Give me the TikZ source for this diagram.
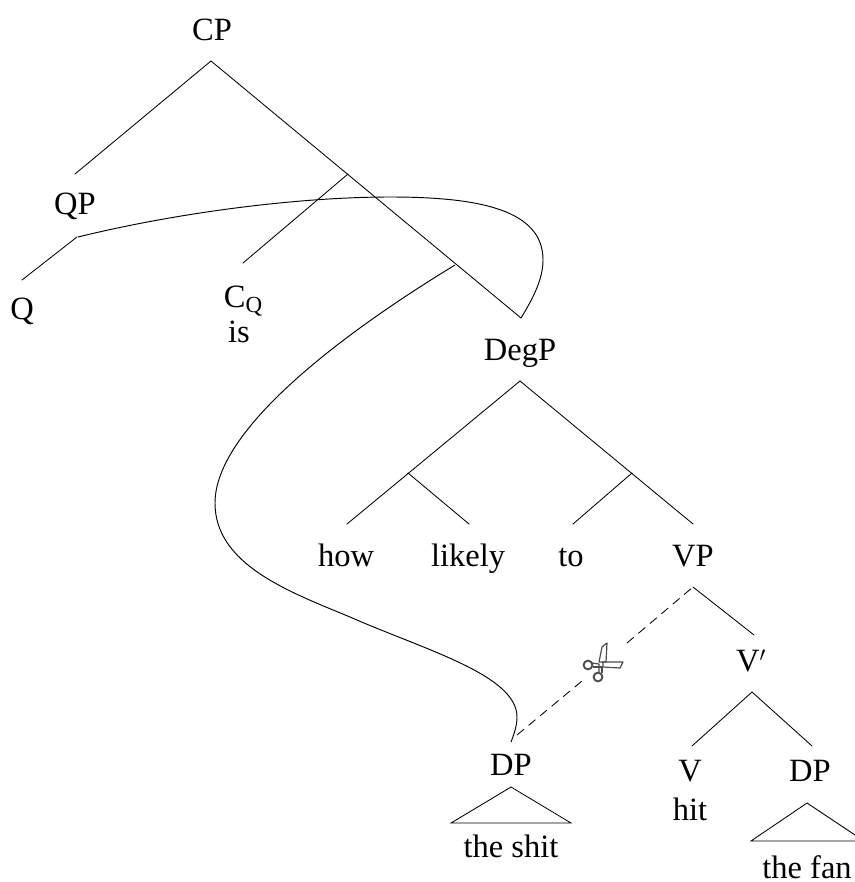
\documentclass[tikz,border=0pt]{standalone}
\usepackage{fontspec}
\setmainfont{Liberation Serif}
\begin{document}
\begin{tikzpicture}[x=1pt,y=-1pt,
  lab/.style={font=\fontsize{32.5}{32.5}\selectfont,inner sep=0pt,anchor=base},
  edge/.style={line width=0.85pt,line cap=round},
  move/.style={line width=0.95pt},
  cut/.style={line width=0.85pt,dash pattern=on 9pt off 6pt},
  sciss/.style={line width=1.2pt,draw=black!70,line join=round}]
\useasboundingbox (0,0) rectangle (854,882);
% labels (anchored on their baselines)
\node[lab] (cp) at (212,41) {CP};
\node[lab] (qp) at (75,215) {QP};
\node[lab] (q) at (22,319) {Q};
\node[lab] (cq) at (243,307) {C\raisebox{-5pt}{\fontsize{23}{23}\selectfont Q}};
\node[lab] (is) at (239,342) {is};
\node[lab] (degp) at (520,360) {DegP};
\node[lab] (how) at (346,566) {how};
\node[lab] (likely) at (468,566) {likely};
\node[lab] (to) at (571,566) {to};
\node[lab] (vp) at (693,566) {VP};
\node[lab] (vbar) at (751,671) {V$'$};
\node[lab] (v) at (690,781) {V};
\node[lab] (hit) at (690,820) {hit};
\node[lab] (dpb) at (810,781) {DP};
\node[lab] (thefan) at (807,878) {the fan};
\node[lab] (dpa) at (511,775) {DP};
\node[lab] (theshit) at (511,857) {the shit};
% junctions
\coordinate (cpb) at (211,61);
\coordinate (qpt) at (75,174);
\coordinate (cpr) at (521,318);
\coordinate (qpb) at (77,237);
\coordinate (qt) at (22,280);
\coordinate (j1) at (348,174);
\coordinate (cqt) at (243,263);
\coordinate (j2) at (455,265);
\coordinate (dgb) at (520,381);
\coordinate (howt) at (347,524);
\coordinate (vpt) at (693,524);
\coordinate (j3) at (408,473);
\coordinate (likt) at (469,524);
\coordinate (j4) at (632,473);
\coordinate (tot) at (573,524);
\coordinate (vpb) at (693,587);
\coordinate (vbt) at (754,635);
\coordinate (vbb) at (752,692);
\coordinate (vt) at (692,746);
\coordinate (dpbt) at (812,746);
\coordinate (dpat) at (517,735);
\coordinate (dpc) at (511,742);
\coordinate (cutl) at (582,681);
\coordinate (cutr) at (627,643);
\coordinate (ta) at (511,787);
\coordinate (tal) at (451,823);
\coordinate (tar) at (571,823);
\coordinate (tb) at (807,803);
\coordinate (tbl) at (751,841);
\coordinate (tbr) at (864,841);
\coordinate (qs) at (78,237);
\coordinate (piv) at (599,664);
\coordinate (ring1) at (588,665);
\coordinate (ring2) at (598,677);
% tree
\draw[edge] (qpt) -- (cpb) -- (cpr);
\draw[edge] (qpb) -- (qt);
\draw[edge] (j1) -- (cqt);
\draw[edge] (howt) -- (dgb) -- (vpt);
\draw[edge] (j3) -- (likt);
\draw[edge] (j4) -- (tot);
\draw[edge] (vpb) -- (vbt);
\draw[edge] (vt) -- (vbb) -- (dpbt);
\draw[edge] (tal) -- (ta) -- (tar) -- cycle;
\draw[edge] (tbl) -- (tb) -- (tbr) -- cycle;
\draw[cut] (dpat) -- (cutl);
\draw[cut] (cutr) -- (vpb);
% scissors
\draw[sciss] (599,662) -- (602,647) -- (607,643) -- (606,662) -- cycle;
\draw[sciss] (603,662) -- (623,662) -- (620,668) -- (603,667) -- cycle;
\draw[sciss,line width=1.9pt] (ring1) circle[radius=4.4];
\draw[sciss,line width=1.9pt] (ring2) circle[radius=4.4];
\draw[sciss] (592,663) -- (piv) -- (599,672);
\draw[sciss] (593,667) -- (602,667) -- (602,673);
% movement
\draw[move] (qs) .. controls (180,212) and (300,197) .. (390,197) .. controls (480,197) and (543,210) .. (543,260) .. controls (543,280) and (532,300) .. (cpr);
\draw[move] (j2) .. controls (340,335) and (215,430) .. (215,503) .. controls (215,565) and (290,592) .. (350,617) .. controls (425,650) and (517,675) .. (517,717) .. controls (517,726) and (514,734) .. (dpc);
\end{tikzpicture}
\end{document}
